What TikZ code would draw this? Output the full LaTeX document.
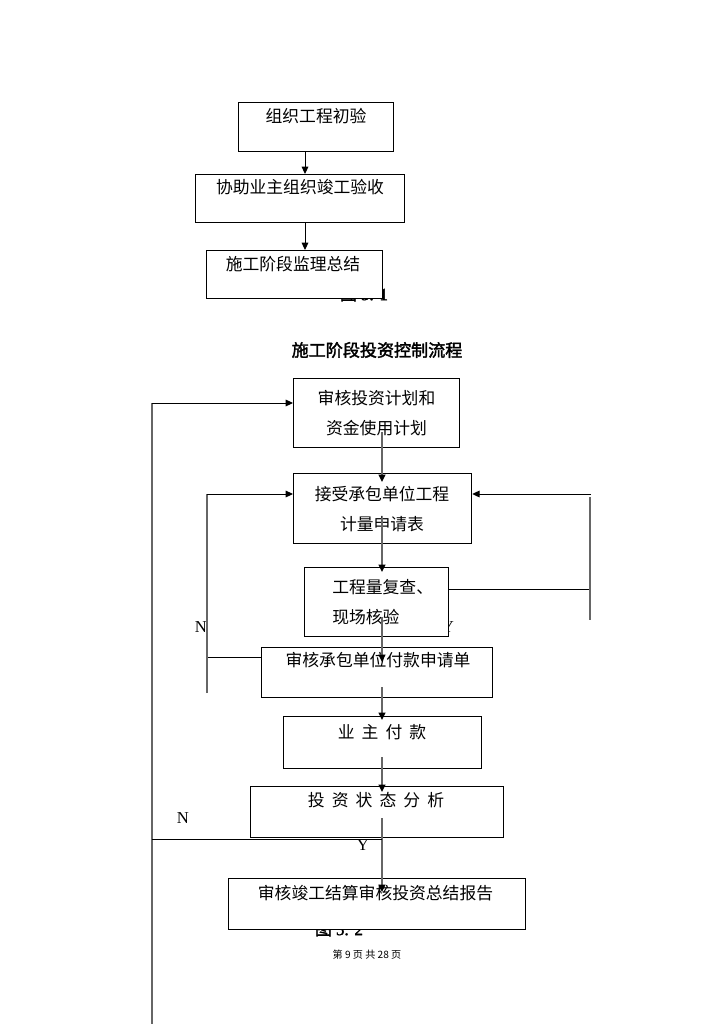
\documentclass[tikz,border=0pt]{standalone}
\usepackage{fontspec}
\setmainfont{Noto Sans CJK SC}[AutoFakeBold=2]
\newfontfamily\lat{Liberation Serif}[AutoFakeBold=2]
\usetikzlibrary{arrows.meta}
\newcommand\gp{\hspace{5.3pt}}
\newcommand\mkbox[5]{\node[box, anchor=north west, minimum width={(#4-#2)*0.75pt}, minimum height={(#5-#3)*0.75pt}] (#1) at (#2,#3) {};}
\tikzset{
  box/.style={draw=black, line width=0.9pt, fill=white, inner sep=0pt},
  txt/.style={font=\fontsize{12.6}{22.5}\selectfont, inner sep=0pt, align=center},
  flow/.style={draw=black!60, line width=1.1pt},
  arr/.style={-{Triangle[length=5.5pt,width=5pt,color=black]}},
  thinln/.style={draw=black, line width=0.75pt},
  yn/.style={font=\lat\fontsize{12.5}{14}\selectfont, inner sep=0pt},
  captxt/.style={font=\fontsize{12.8}{15}\selectfont\bfseries, inner sep=0pt},
}
\begin{document}
\begin{tikzpicture}[x=0.75pt, y=-0.75pt]
\useasboundingbox (0,0) rectangle (724,1024);
% captions partly hidden behind boxes
\node[captxt] (cap1) at (364,294) {图 {\lat 5. 1}};
\node[captxt] (cap2) at (339,929) {图 {\lat 5. 2}};
\node[yn] (y1) at (448,627) {Y};
% title
\node[captxt] (title) at (377,350) {施工阶段投资控制流程};
% boxes
\mkbox{b1}{238}{102}{393}{151}
\mkbox{b2}{195}{174}{404}{222}
\mkbox{b3}{206}{250}{382}{298}
\mkbox{b4}{293}{378}{459}{447}
\mkbox{b5}{293}{473}{471}{543}
\mkbox{b6}{304}{567}{448}{636}
\mkbox{b7}{261}{647}{492}{697}
\mkbox{b8}{283}{716}{481}{768}
\mkbox{b9}{250}{786}{503}{837}
\mkbox{b10}{228}{878}{525}{929}
% texts
\node[txt] (t1) at (316,116) {组织工程初验};
\node[txt] (t2) at (300,187) {协助业主组织竣工验收};
\node[txt] (t3) at (293,264) {施工阶段监理总结};
\node[txt] (t4) at (376.5,413) {审核投资计划和\\资金使用计划};
\node[txt] (t5) at (382,509) {接受承包单位工程\\计量申请表};
\node[txt, align=left, anchor=west] (t6) at (332,602.5) {工程量复查、\\现场核验};
\node[txt] (t7) at (378,660) {审核承包单位付款申请单};
\node[txt] (t8) at (382,732) {业\gp{}主\gp{}付\gp{}款};
\node[txt] (t9) at (376,800) {投\gp{}资\gp{}状\gp{}态\gp{}分\gp{}析};
\node[txt] (t10) at (375.5,893) {审核竣工结算审核投资总结报告};
% labels
\node[yn] (n1) at (201,627) {N};
\node[yn] (n2) at (183,818) {N};
\node[yn] (y2) at (363,845) {Y};
\node[font=\fontsize{7.6}{9}\selectfont, inner sep=0pt] (foot) at (367,955) {第 9 页 共 28 页};
% coordinates
\coordinate (c1) at (305,0);
\coordinate (s45) at (382,432); \coordinate (e45) at (382,482);
\coordinate (s56) at (382,518); \coordinate (e56) at (382,572);
\coordinate (s67) at (382,617); \coordinate (e67) at (382,662);
\coordinate (s78) at (382,687); \coordinate (e78) at (382,720);
\coordinate (s89) at (382,757); \coordinate (e89) at (382,792);
\coordinate (s910) at (382,818); \coordinate (e910) at (382,892);
\coordinate (fb) at (152,1024); \coordinate (fc) at (152,403);
\coordinate (nl) at (152,839); \coordinate (nr) at (382,839);
\coordinate (lb) at (207,693); \coordinate (lt) at (207,494); \coordinate (lm) at (207,657);
\coordinate (rb) at (590,620); \coordinate (rt) at (590,497); \coordinate (rh) at (591,494); \coordinate (rm) at (590,589);
% top flow
\draw[thinln, arr] (b1.south -| c1) -- (b2.north -| c1);
\draw[thinln, arr] (b2.south -| c1) -- (b3.north -| c1);
% main flow
\draw[flow, arr] (s45) -- (e45);
\draw[flow, arr] (s56) -- (e56);
\draw[flow, arr] (s67) -- (e67);
\draw[flow, arr] (s78) -- (e78);
\draw[flow, arr] (s89) -- (e89);
\draw[flow, arr] (s910) -- (e910);
% outer feedback
\draw[flow] (fb) -- (fc);
\draw[thinln, arr] (fc) -- (fc -| b4.west);
\draw[thinln] (nl) -- (nr);
% left loop
\draw[thinln] (b7.west |- lm) -- (lm);
\draw[flow] (lb) -- (lt);
\draw[thinln, arr] (lt) -- (lt -| b5.west);
% right loop
\draw[thinln] (b6.east |- rm) -- (rm);
\draw[flow] (rt) -- (rb);
\draw[thinln, arr] (rh) -- (rh -| b5.east);
\end{tikzpicture}
\end{document}
